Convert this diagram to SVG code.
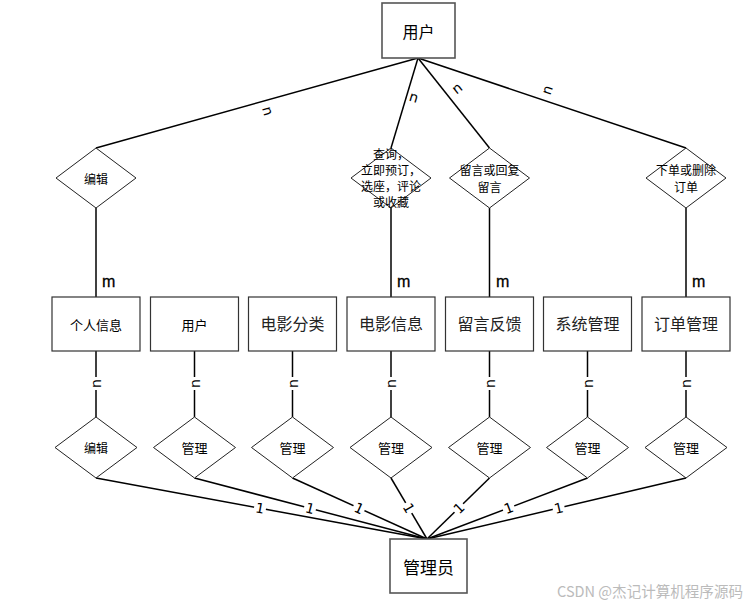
<svg xmlns="http://www.w3.org/2000/svg" width="751" height="605" viewBox="0 0 751 605">
<style>
.bg{fill:#fff}
.ent{fill:#fff;stroke:#333;stroke-width:1.2}
.entb{fill:#fff;stroke:#555;stroke-width:1.6}
.rel{fill:#fff;stroke:#222;stroke-width:1}
.ln{stroke:#000;stroke-width:1.5;fill:none}
.t{font-family:"Noto Sans CJK SC","Liberation Sans",sans-serif;fill:#000;text-anchor:middle;dominant-baseline:central}
.s12{font-size:12px}
.s13{font-size:13px}
.s16{font-size:16px;fill:#222}
.s17{font-size:17px}
.lab{font-family:"DejaVu Sans","Liberation Sans",sans-serif;font-size:14px;text-anchor:middle;dominant-baseline:central;fill:#000}
.m{font-family:"Liberation Sans",Arial,sans-serif;font-size:16px;fill:#000;stroke:#000;stroke-width:0.3}
.lbg{fill:#fff}
.wm{font-family:"Noto Sans CJK SC","Liberation Sans",sans-serif;font-size:15px;fill:#bbb}
</style>
<rect class="bg" x="0" y="0" width="751" height="605"/>
<g id="connectors">
<line class="ln" x1="418" y1="58" x2="96" y2="148"/>
<line class="ln" x1="418" y1="58" x2="391" y2="148"/>
<line class="ln" x1="418" y1="58" x2="489.5" y2="148"/>
<line class="ln" x1="418" y1="58" x2="686" y2="148"/>
<line class="ln" x1="96" y1="208" x2="96" y2="297"/>
<line class="ln" x1="391" y1="208" x2="391" y2="297"/>
<line class="ln" x1="489.5" y1="208" x2="489.5" y2="297"/>
<line class="ln" x1="686" y1="208" x2="686" y2="297"/>
<line class="ln" x1="96" y1="351" x2="96" y2="417"/>
<line class="ln" x1="194.5" y1="351" x2="194.5" y2="417"/>
<line class="ln" x1="292.5" y1="351" x2="292.5" y2="417"/>
<line class="ln" x1="391" y1="351" x2="391" y2="417"/>
<line class="ln" x1="489.5" y1="351" x2="489.5" y2="417"/>
<line class="ln" x1="587.5" y1="351" x2="587.5" y2="417"/>
<line class="ln" x1="686" y1="351" x2="686" y2="417"/>
<line class="ln" x1="96" y1="478" x2="427" y2="539"/>
<line class="ln" x1="194.5" y1="478" x2="427" y2="539"/>
<line class="ln" x1="292.5" y1="478" x2="427" y2="539"/>
<line class="ln" x1="391" y1="478" x2="427" y2="539"/>
<line class="ln" x1="489.5" y1="478" x2="427" y2="539"/>
<line class="ln" x1="587.5" y1="478" x2="427" y2="539"/>
<line class="ln" x1="686" y1="478" x2="427" y2="539"/>
<text class="lab" transform="translate(268,111) rotate(74.4)">n</text>
<text class="lab" transform="translate(414,97) rotate(16.7)">n</text>
<text class="lab" transform="translate(457,88) rotate(-38.3)">n</text>
<text class="lab" transform="translate(547,90) rotate(-71.4)">n</text>
<text class="m" x="102" y="287">m</text>
<text class="m" x="397" y="287">m</text>
<text class="m" x="496" y="287">m</text>
<text class="m" x="692" y="287">m</text>
<g>
<rect class="lbg" x="90" y="377" width="12" height="13"/>
<rect class="lbg" x="188.5" y="377" width="12" height="13"/>
<rect class="lbg" x="286.5" y="377" width="12" height="13"/>
<rect class="lbg" x="385" y="377" width="12" height="13"/>
<rect class="lbg" x="483.5" y="377" width="12" height="13"/>
<rect class="lbg" x="581.5" y="377" width="12" height="13"/>
<rect class="lbg" x="680" y="377" width="12" height="13"/>
<text class="lab" transform="translate(96,383.5) rotate(-90)">n</text>
<text class="lab" transform="translate(194.5,383.5) rotate(-90)">n</text>
<text class="lab" transform="translate(292.5,383.5) rotate(-90)">n</text>
<text class="lab" transform="translate(391,383.5) rotate(-90)">n</text>
<text class="lab" transform="translate(489.5,383.5) rotate(-90)">n</text>
<text class="lab" transform="translate(587.5,383.5) rotate(-90)">n</text>
<text class="lab" transform="translate(686,383.5) rotate(-90)">n</text>
</g>
<g>
<g transform="translate(260,508.2) rotate(10.4)"><rect class="lbg" x="-6" y="-7" width="12" height="14"/><text class="lab" x="0" y="0">1</text></g>
<g transform="translate(310,508.3) rotate(14.7)"><rect class="lbg" x="-6" y="-7" width="12" height="14"/><text class="lab" x="0" y="0">1</text></g>
<g transform="translate(359,508.2) rotate(24.4)"><rect class="lbg" x="-6" y="-7" width="12" height="14"/><text class="lab" x="0" y="0">1</text></g>
<g transform="translate(408.7,508) rotate(59.5)"><rect class="lbg" x="-6" y="-7" width="12" height="14"/><text class="lab" x="0" y="0">1</text></g>
<g transform="translate(458.8,508) rotate(-44.5)"><rect class="lbg" x="-6" y="-7" width="12" height="14"/><text class="lab" x="0" y="0">1</text></g>
<g transform="translate(508.6,508) rotate(-20.8)"><rect class="lbg" x="-6" y="-7" width="12" height="14"/><text class="lab" x="0" y="0">1</text></g>
<g transform="translate(558.6,508) rotate(-13.3)"><rect class="lbg" x="-6" y="-7" width="12" height="14"/><text class="lab" x="0" y="0">1</text></g>
</g>
</g>
<g id="user-top">
<rect class="entb" x="382" y="3" width="73" height="55"/>
<text class="t" x="418.5" y="30.5" font-size="16">用户</text>
</g>
<g id="rel-edit-top">
<polygon class="rel" points="96,148 136,178 96,208 56,178"/>
<text class="t s12" x="96" y="178">编辑</text>
</g>
<g id="rel-query">
<polygon class="rel" points="391,148 431,178 391,208 351,178"/>
<text class="t s12" x="391" y="153">查询，</text>
<text class="t s12" x="391" y="169">立即预订，</text>
<text class="t s12" x="391" y="185.5">选座，评论</text>
<text class="t s12" x="391" y="201.5">或收藏</text>
</g>
<g id="rel-message">
<polygon class="rel" points="489.5,148 529.5,178 489.5,208 449.5,178"/>
<text class="t s12" x="489.5" y="169">留言或回复</text>
<text class="t s12" x="489.5" y="186">留言</text>
</g>
<g id="rel-order">
<polygon class="rel" points="686,148 726,178 686,208 646,178"/>
<text class="t s12" x="686" y="169">下单或删除</text>
<text class="t s12" x="686" y="186">订单</text>
</g>
<g id="ent-info"><rect class="ent" x="52" y="297" width="88" height="54"/><text class="t s13" x="96" y="324">个人信息</text></g>
<g id="ent-user"><rect class="ent" x="150.5" y="297" width="88" height="54"/><text class="t s13" x="194.5" y="324">用户</text></g>
<g id="ent-category"><rect class="ent" x="248.5" y="297" width="88" height="54"/><text class="t s16" x="292.5" y="323">电影分类</text></g>
<g id="ent-movie"><rect class="ent" x="347" y="297" width="88" height="54"/><text class="t s16" x="391" y="323">电影信息</text></g>
<g id="ent-feedback"><rect class="ent" x="445.5" y="297" width="88" height="54"/><text class="t s16" x="489.5" y="323">留言反馈</text></g>
<g id="ent-system"><rect class="ent" x="543.5" y="297" width="88" height="54"/><text class="t s16" x="587.5" y="323">系统管理</text></g>
<g id="ent-order"><rect class="ent" x="642" y="297" width="88" height="54"/><text class="t s16" x="686" y="323">订单管理</text></g>
<g id="rel-b1"><polygon class="rel" points="96,417 137,447.5 96,478 55,447.5"/><text class="t s12" x="96" y="447.5">编辑</text></g>
<g id="rel-b2"><polygon class="rel" points="194.5,417 235.5,447.5 194.5,478 153.5,447.5"/><text class="t s13" x="194.5" y="447.5">管理</text></g>
<g id="rel-b3"><polygon class="rel" points="292.5,417 333.5,447.5 292.5,478 251.5,447.5"/><text class="t s13" x="292.5" y="447.5">管理</text></g>
<g id="rel-b4"><polygon class="rel" points="391,417 432,447.5 391,478 350,447.5"/><text class="t s13" x="391" y="447.5">管理</text></g>
<g id="rel-b5"><polygon class="rel" points="489.5,417 530.5,447.5 489.5,478 448.5,447.5"/><text class="t s13" x="489.5" y="447.5">管理</text></g>
<g id="rel-b6"><polygon class="rel" points="587.5,417 628.5,447.5 587.5,478 546.5,447.5"/><text class="t s13" x="587.5" y="447.5">管理</text></g>
<g id="rel-b7"><polygon class="rel" points="686,417 727,447.5 686,478 645,447.5"/><text class="t s13" x="686" y="447.5">管理</text></g>
<g id="admin">
<rect class="entb" x="390" y="539" width="77" height="54"/>
<text class="t s17" x="428.5" y="566">管理员</text>
</g>
<text class="wm" x="557" y="597" textLength="186" lengthAdjust="spacingAndGlyphs">CSDN @杰记计算机程序源码</text>
</svg>
